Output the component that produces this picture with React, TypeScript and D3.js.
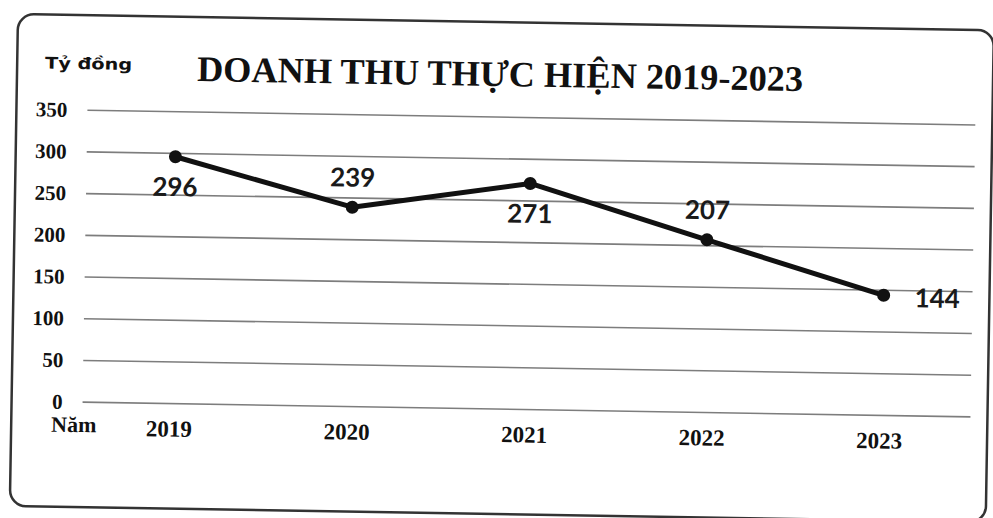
import React from "react";
import * as d3 from "d3";

const years: string[] = ["2019", "2020", "2021", "2022", "2023"];
const revenue: number[] = [296, 239, 271, 207, 144];
const yTicks: number[] = [0, 50, 100, 150, 200, 250, 300, 350];
const labelPlacement: string[] = ["below", "above", "below", "above", "right"];

const W = 993;
const H = 518;

export default function App() {
  const x = d3.scalePoint<string>().domain(years).range([85, 973]).padding(0.5);
  const y = d3.scaleLinear().domain([0, 350]).range([409, 117]);
  const line = d3
    .line<number>()
    .x((_, i) => x(years[i]) as number)
    .y((d) => y(d));

  const serif = "'Liberation Serif', 'Times New Roman', serif";
  const labFs = 26;

  return (
    <svg
      width={W}
      height={H}
      style={{ position: "absolute", left: 0, top: 0, background: "#fff" }}
    >
      <rect x={0} y={0} width={W} height={H} fill="#fff" />
      <g transform={`rotate(0.95, 496, 259)`}>
        <rect
          x={14}
          y={22}
          width={976}
          height={492}
          rx={16}
          fill="#fff"
          stroke="#333"
          strokeWidth={2.5}
        />
        {/* title */}
        <text
          x={194}
          y={86}
          fontFamily={serif}
          fontWeight="bold"
          fontSize={36}
          fill="#111"
          textLength={606}
          lengthAdjust="spacingAndGlyphs"
        >
          DOANH THU THỰC HIỆN 2019-2023
        </text>
        <text
          x={42}
          y={76}
          fontFamily="'DejaVu Sans', sans-serif"
          fontWeight="bold"
          fontSize={16}
          fill="#111"
          textLength={87}
          lengthAdjust="spacingAndGlyphs"
        >
          Tỷ đồng
        </text>
        {/* grid + y ticks */}
        {yTicks.map((t) => (
          <g key={t}>
            <line
              x1={85}
              x2={973}
              y1={y(t)}
              y2={y(t)}
              stroke="#7d7d7d"
              strokeWidth={1.6}
            />
            <text
              x={65}
              y={y(t) + 7}
              textAnchor="end"
              fontFamily={serif}
              fontWeight="bold"
              fontSize={21}
              fill="#111"
            >
              {t}
            </text>
          </g>
        ))}
        {/* x labels */}
        <text
          x={54}
          y={439}
          fontFamily={serif}
          fontWeight="bold"
          fontSize={22}
          fill="#111"
        >
          Năm
        </text>
        {years.map((yr) => (
          <text
            key={yr}
            x={(x(yr) as number) - 2}
            y={442}
            textAnchor="middle"
            fontFamily={serif}
            fontWeight="bold"
            fontSize={23}
            fill="#111"
          >
            {yr}
          </text>
        ))}
        {/* line */}
        <path
          d={line(revenue) || ""}
          fill="none"
          stroke="#111"
          strokeWidth={5}
          strokeLinejoin="round"
        />
        {revenue.map((v, i) => (
          <circle key={i} cx={x(years[i]) as number} cy={y(v)} r={6.5} fill="#111" />
        ))}
        {revenue.map((v, i) => {
          const px = x(years[i]) as number;
          const py = y(v);
          const p = labelPlacement[i];
          let lx = px;
          let ly = py;
          let anchor: "middle" | "start" = "middle";
          if (p === "below") ly = py + 30;
          else if (p === "above") ly = py - 30;
          else {
            lx = px + 31;
            ly = py + 2;
            anchor = "start";
          }
          return (
            <text
              key={i}
              x={lx}
              y={ly + labFs * 0.36}
              textAnchor={anchor}
              fontFamily="Lato, 'Open Sans', sans-serif"
              fontWeight="bold"
              fontSize={labFs}
              fill="#1a1a1a"
            >
              {v}
            </text>
          );
        })}
      </g>
    </svg>
  );
}
